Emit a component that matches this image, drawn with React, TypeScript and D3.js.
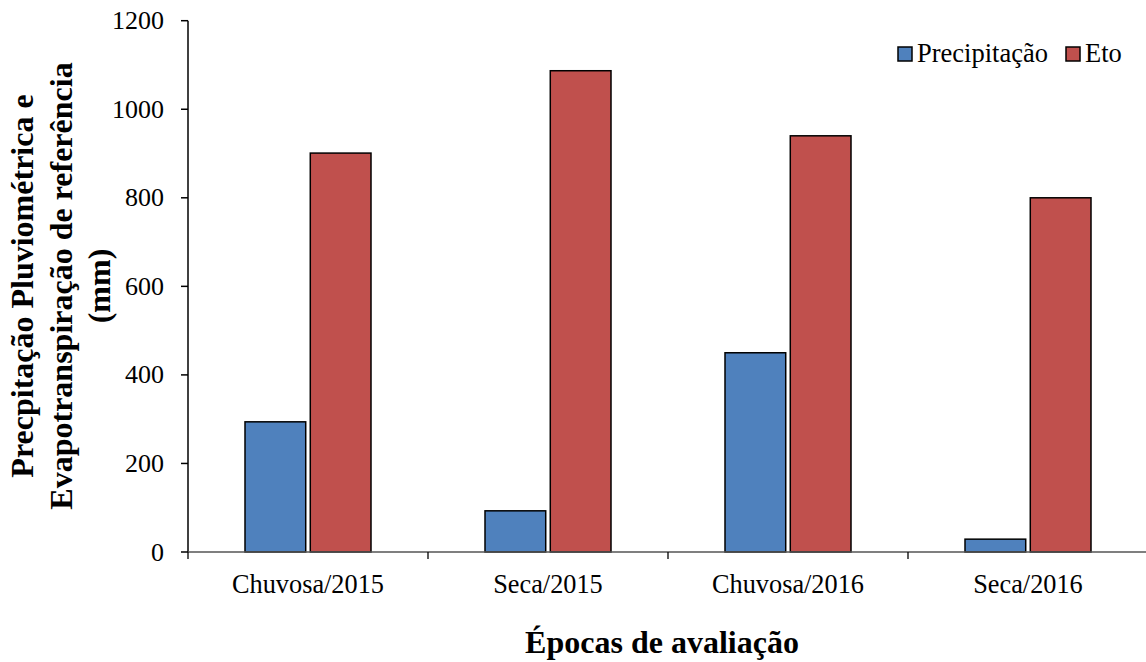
import React from "react";
import * as d3 from "d3";

const categories = ["Chuvosa/2015", "Seca/2015", "Chuvosa/2016", "Seca/2016"];
const precipitacao = [294, 93, 450, 29];
const eto = [901, 1087, 940, 800];
const seriesNames = ["Precipitação", "Eto"];
const seriesColors = ["#4F81BD", "#C0504D"];
const yTicks = [0, 200, 400, 600, 800, 1000, 1200];
const yTitleLines = ["Precpitação Pluviométrica e", "Evapotranspiração de referência", "(mm)"];

const W = 1146;
const H = 662;
const left = 188;
const right = 1148;
const top = 20.7;
const bottom = 552;
const font = "'Liberation Serif', 'Times New Roman', serif";

export default function App() {
  const x = d3.scaleBand<string>().domain(categories).range([left, right]);
  const y = d3.scaleLinear().domain([0, 1200]).range([bottom, top]);
  const sub = d3.scaleBand<number>().domain([0, 1]).range([-63, 63]).paddingInner(0.07);
  const series = [precipitacao, eto];
  const legendX = [898, 1066];

  return (
    <svg width={W} height={H} style={{ position: "absolute", left: 0, top: 0, background: "#fff" }}>
      {/* bars */}
      {series.map((vals, si) =>
        vals.map((v, i) => {
          const cx = (x(categories[i]) as number) + x.bandwidth() / 2;
          const bx = cx + (sub(si) as number);
          return (
            <rect
              key={`${si}-${i}`}
              x={bx}
              y={y(v)}
              width={sub.bandwidth()}
              height={bottom - y(v)}
              fill={seriesColors[si]}
              stroke="#000"
              strokeWidth={1.5}
            />
          );
        })
      )}
      {/* y axis */}
      <line x1={left} x2={left} y1={top} y2={bottom} stroke="#000" strokeWidth={1.5} />
      {yTicks.map((t) => (
        <g key={t}>
          <line x1={left - 7} x2={left} y1={y(t)} y2={y(t)} stroke="#000" strokeWidth={1.5} />
          <text x={164} y={y(t) + 8.5} textAnchor="end" fontFamily={font} fontSize={26}>
            {t}
          </text>
        </g>
      ))}
      {/* x axis */}
      <line x1={left} x2={W} y1={bottom} y2={bottom} stroke="#555" strokeWidth={1.3} />
      {categories.map((c) => (
        <line
          key={`t-${c}`}
          x1={x(c) as number}
          x2={x(c) as number}
          y1={bottom}
          y2={bottom + 7}
          stroke="#000"
          strokeWidth={1.3}
        />
      ))}
      {categories.map((c) => (
        <text
          key={`l-${c}`}
          x={(x(c) as number) + x.bandwidth() / 2}
          y={593}
          textAnchor="middle"
          fontFamily={font}
          fontSize={26.3}
        >
          {c}
        </text>
      ))}
      {/* axis titles */}
      <text x={662} y={653} textAnchor="middle" fontFamily={font} fontSize={32} fontWeight="bold">
        Épocas de avaliação
      </text>
      <g transform="translate(0,286) rotate(-90)">
        {yTitleLines.map((s, i) => (
          <text key={s} x={0} y={33 + i * 38.5} textAnchor="middle" fontFamily={font} fontSize={32} fontWeight="bold">
            {s}
          </text>
        ))}
      </g>
      {/* legend */}
      {seriesNames.map((n, i) => {
        const lx = legendX[i];
        return (
          <g key={n}>
            <rect x={lx} y={47} width={14} height={14} fill={seriesColors[i]} stroke="#000" strokeWidth={1.5} />
            <text x={lx + 19} y={62} fontFamily={font} fontSize={26.5}>
              {n}
            </text>
          </g>
        );
      })}
    </svg>
  );
}
